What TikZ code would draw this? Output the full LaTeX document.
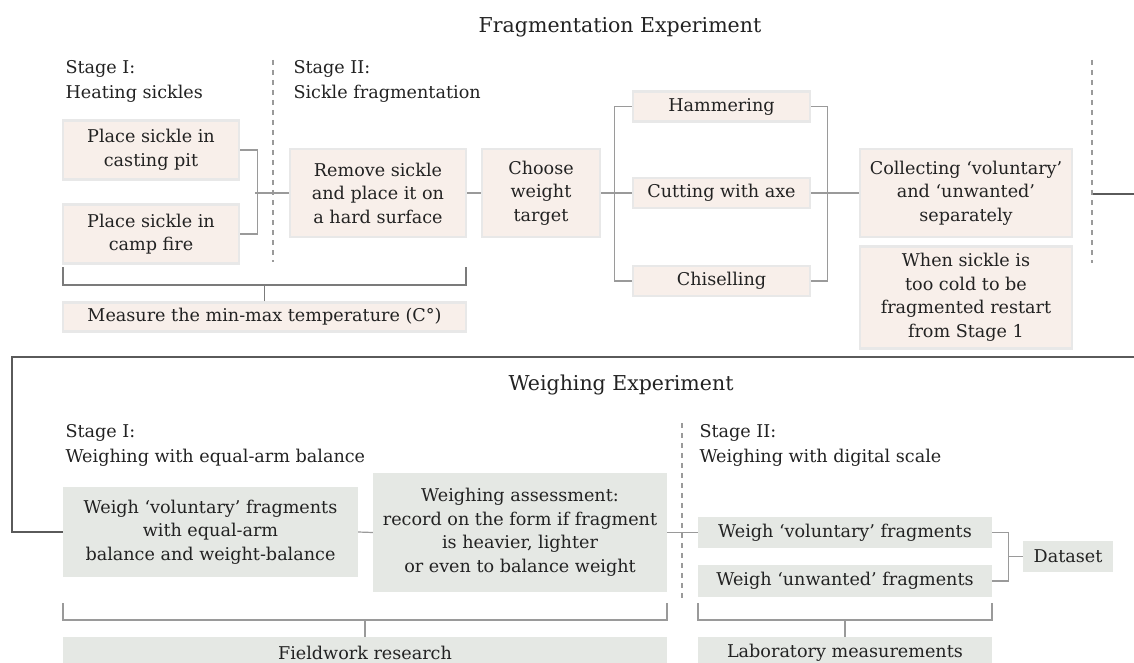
\documentclass[tikz,border=0pt]{standalone}
\usepackage{fontspec}
\setmainfont{DejaVu Serif}
\usepackage{tikz}
\usetikzlibrary{positioning}
\definecolor{pinkfill}{HTML}{F8EFEA}
\definecolor{pinkline}{HTML}{E8E8E8}
\definecolor{grayfill}{HTML}{E5E8E4}
\definecolor{linkgray}{HTML}{9A9A9A}
\definecolor{darkline}{HTML}{5A5A5A}
\definecolor{inkgray}{HTML}{222222}
\begin{document}
\begin{tikzpicture}[x=1pt,y=1pt,
    every node/.style={text=inkgray,font=\fontsize{17.6}{23.5}\selectfont},
    pinkbox/.style={fill=pinkfill,draw=pinkline,line width=2.5pt,inner sep=0pt,align=center},
    graybox/.style={fill=grayfill,inner sep=0pt,align=center},
    link/.style={draw=linkgray,line width=1.2pt},
    brack/.style={draw=linkgray,line width=1.6pt},
    sepline/.style={draw=darkline,line width=1.6pt},
    stagesep/.style={draw=linkgray,line width=1.2pt,dash pattern=on 5pt off 5pt}]
    \useasboundingbox (0,0) rectangle (1134,-663);
    % Titulos
    \node[font=\fontsize{20.5}{24}\selectfont,anchor=base] (fragtitle) at (620,-33) {Fragmentation Experiment};
    \node[font=\fontsize{20.5}{24}\selectfont,anchor=base] (weightitle) at (621,-390) {Weighing Experiment};
    % Etapas (fragmentacion)
    \node[anchor=base west,align=left,font=\fontsize{17.6}{25}\selectfont] (stageA) at (62,-99) {Stage I:\\Heating sickles};
    \node[anchor=base west,align=left,font=\fontsize{17.6}{25}\selectfont] (stageB) at (290,-99) {Stage II:\\Sickle fragmentation};
    \draw[stagesep] (273,-60) -- (273,-262);
    \draw[stagesep] (1092,-60) -- (1092,-263);
    % Cajas (fragmentacion)
    \node[pinkbox,minimum width=176pt,minimum height=59pt] (heatA) at (151,-150) {Place sickle in\\casting pit};
    \node[pinkbox,minimum width=176pt,minimum height=59pt] (heatB) at (151,-234) {Place sickle in\\camp fire};
    \node[pinkbox,minimum width=176pt,minimum height=88pt] (remove) at (378,-193) {Remove sickle\\and place it on\\a hard surface};
    \node[pinkbox,minimum width=118pt,minimum height=88pt] (choose) at (541,-193) {Choose\\weight\\target};
    \node[pinkbox,minimum width=177pt,minimum height=30pt] (hammer) at (721.5,-106.5) {Hammering};
    \node[pinkbox,minimum width=177pt,minimum height=30pt] (cut) at (721.5,-193) {Cutting with axe};
    \node[pinkbox,minimum width=177pt,minimum height=30pt] (chisel) at (721.5,-281) {Chiselling};
    \node[pinkbox,minimum width=212pt,minimum height=88pt] (collect) at (966,-193) {Collecting `voluntary'\\and `unwanted'\\separately};
    \node[pinkbox,minimum width=212pt,minimum height=102pt] (restart) at (966,-297.5) {When sickle is\\too cold to be\\fragmented restart\\from Stage 1};
    \node[pinkbox,minimum width=403pt,minimum height=29pt] (measure) at (264.5,-317) {Measure the min-max temperature (C°)};
    % Conectores (fragmentacion)
    \draw[link] (heatA.east) -- ++(17,0) |- (heatB.east);
    \draw[link] (remove.west) -- ++(-34,0);
    \draw[link] (remove.east) -- (choose.west);
    \draw[link] (choose.east) -- (cut.west);
    \draw[link] (hammer.west) -- ++(-17,0) |- (chisel.west);
    \draw[link] (hammer.east) -- ++(16,0) |- (chisel.east);
    \draw[link] (cut.east) -- (collect.west);
    % Llave de temperatura
    \draw[brack,draw=darkline!80] (63,-267) -- (63,-285) -- (466,-285) -- (466,-267);
    \draw[brack,draw=darkline!80] (measure.north) -- ++(0,17);
    % Linea de paso entre experimentos
    \coordinate (outA) at (1093,-194);
    \coordinate (outB) at (1134,-194);
    \coordinate (backA) at (1134,-357);
    \coordinate (backB) at (12,-357);
    \draw[sepline] (outA) -- (outB);
    % Etapas (pesaje)
    \node[anchor=base west,align=left,font=\fontsize{17.6}{24.5}\selectfont] (stageC) at (62,-462) {Stage I:\\Weighing with equal-arm balance};
    \node[anchor=base west,align=left,font=\fontsize{17.6}{24.5}\selectfont] (stageD) at (696,-462) {Stage II:\\Weighing with digital scale};
    \draw[stagesep] (682,-423) -- (682,-598);
    % Cajas (pesaje)
    \node[graybox,minimum width=295pt,minimum height=90pt] (weighV) at (210.5,-532) {Weigh `voluntary' fragments\\with equal-arm\\balance and weight-balance};
    \node[graybox,minimum width=294pt,minimum height=119pt] (assess) at (520,-532.5) {Weighing assessment:\\record on the form if fragment\\is heavier, lighter\\or even to balance weight};
    \node[graybox,minimum width=294pt,minimum height=31pt] (digV) at (845,-532.5) {Weigh `voluntary' fragments};
    \node[graybox,minimum width=294pt,minimum height=32pt] (digU) at (845,-581) {Weigh `unwanted' fragments};
    \node[graybox,minimum width=90pt,minimum height=31pt] (dataset) at (1068,-556.5) {Dataset};
    \node[graybox,minimum width=604pt,minimum height=31pt] (field) at (365,-652.5) {Fieldwork research};
    \node[graybox,minimum width=294pt,minimum height=31pt] (lab) at (845,-652.5) {Laboratory measurements};
    % Conectores (pesaje)
    \draw[sepline] (backA) -- (backB) |- (weighV.west);
    \draw[link] (weighV.east) -- (assess.west);
    \draw[link] (assess.east) -- (digV.west);
    \draw[link] (digV.east) -- ++(16,0) |- (digU.east);
    \draw[link] (dataset.west) -- ++(-15,0);
    % Llaves inferiores
    \draw[brack] (63,-603) -- (63,-620) -- (667,-620) -- (667,-603);
    \draw[brack] (field.north) -- ++(0,17);
    \draw[brack] (698,-603) -- (698,-620) -- (992,-620) -- (992,-603);
    \draw[brack] (lab.north) -- ++(0,17);
\end{tikzpicture}
\end{document}
